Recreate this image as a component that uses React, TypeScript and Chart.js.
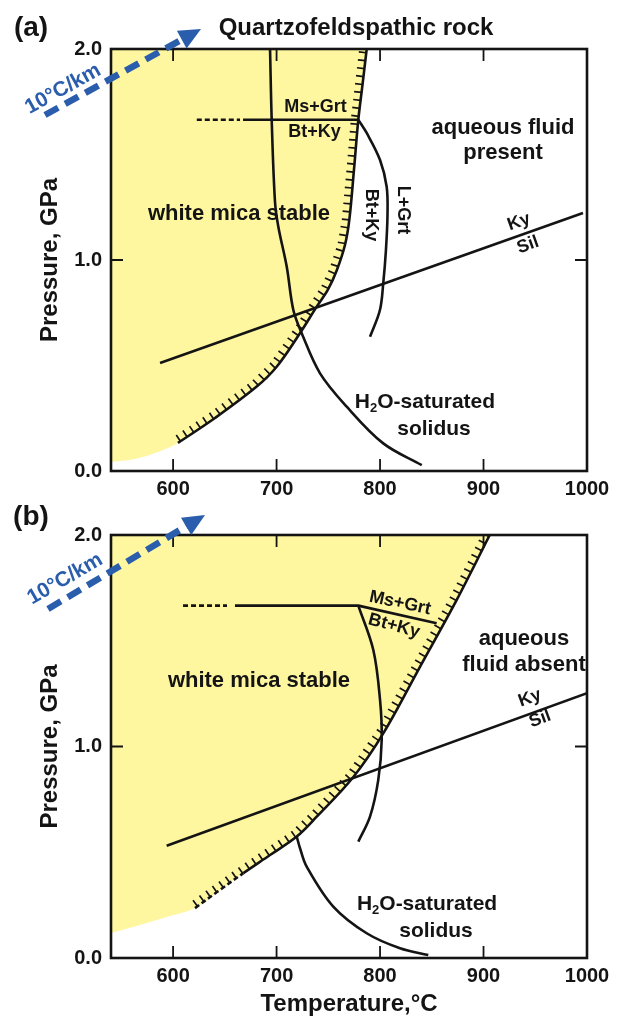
import React, { useEffect, useRef } from "react";
import { Chart, registerables } from "chart.js";

Chart.register(...registerables);

type XY = [number, number];

// ---------------- axes ----------------
const temperatureTicks = [600, 700, 800, 900, 1000];
const pressureTicks = [0, 1, 2];

// ---------------- panel (a): aqueous fluid present ----------------
const micaEdgeA: XY[] = [[540, 0.043], [563.2, 0.057], [585.4, 0.09]];
const micaBoundaryA: XY[] = [
  [604.7, 0.133], [640.5, 0.251], [680.8, 0.4], [700.1, 0.494], [722.6, 0.653], [738.8, 0.779],
  [749.5, 0.858], [758.3, 0.953], [766.1, 1.071], [770.3, 1.19], [774.8, 1.427], [779.0, 1.665],
  [783.0, 1.829], [787.1, 2.0],
];
const solidusA: XY[] = [
  [693.7, 2.0], [695.3, 1.664], [698.5, 1.275], [701.7, 1.158], [709.8, 0.969], [716.2, 0.763],
  [724.3, 0.653], [742.0, 0.463], [767.8, 0.305], [803.1, 0.131], [840.3, 0.028],
];
const meltCurveA: XY[] = [
  [779.0, 1.665], [787.1, 1.602], [800.0, 1.474], [806.4, 1.347], [807.2, 1.213], [805.7, 1.047],
  [803.1, 0.89], [799.9, 0.763], [790.3, 0.636],
];
const kySilA: XY[] = [[587.4, 0.512], [996.1, 1.223]];
const msGrtDashA: XY[] = [[622.9, 1.665], [664.7, 1.665]];
const msGrtA: XY[] = [[667.6, 1.665], [779.0, 1.665]];

// ---------------- panel (b): aqueous fluid absent ----------------
const micaEdgeB: XY[] = [[540, 0.118], [561.3, 0.147], [594.1, 0.194]];
const micaBoundaryB: XY[] = [
  [621.2, 0.236], [645.3, 0.322], [667.9, 0.401], [693.7, 0.487], [719.5, 0.574], [738.8, 0.668],
  [774.2, 0.856], [803.1, 1.062], [838.6, 1.377], [874.1, 1.693], [906.0, 2.0],
];
const solidusB: XY[] = [
  [719.5, 0.574], [722.6, 0.52], [729.1, 0.432], [754.8, 0.243], [787.1, 0.117], [819.3, 0.046], [846.6, 0.014],
];
const meltCurveB: XY[] = [
  [779.0, 1.666], [793.5, 1.456], [800.0, 1.22], [801.6, 1.031], [798.3, 0.842], [790.3, 0.668], [779.0, 0.55],
];
const kySilB: XY[] = [[593.8, 0.531], [1000, 1.252]];
const msGrtDashB: XY[] = [[609.6, 1.666], [652.1, 1.666]];
const msGrtB: XY[] = [[659.8, 1.666], [779.0, 1.666], [854.7, 1.583]];

// ---------------- styles ----------------
const BLUE = "#2a5dab";
const YELLOW = "#fff7a0";
const INK = "#141414";
const FONT = '"Liberation Sans", Arial, Helvetica, sans-serif';

type Part = { t: string; sub?: boolean };
type Label = { parts: Part[]; x: number; y: number; size: number; rot?: number; align?: "left" | "center" | "right" };
const txt = (t: string): Part[] => [{ t }];
const h2o: Part[] = [{ t: "H" }, { t: "2", sub: true }, { t: "O-saturated" }];

type Panel = {
  height: number;
  top: number;
  xAxisHeight: number;
  showXTitle: boolean;
  letter: { text: string; x: number; y: number };
  title?: { text: string; x: number; y: number };
  arrow: { x0: number; y0: number; x1: number; y1: number; tx: number; ty: number; rot: number };
  edge: XY[];
  boundary: XY[];
  boundaryDashSegs: number;
  solidus: XY[];
  melt: XY[];
  kySil: XY[];
  msDash: XY[];
  ms: XY[];
  labels: Label[];
};

const panelA: Panel = {
  height: 500,
  top: 49,
  xAxisHeight: 29,
  showXTitle: false,
  letter: { text: "(a)", x: 31, y: 28 },
  title: { text: "Quartzofeldspathic rock", x: 356, y: 28 },
  arrow: { x0: 45, y0: 115, x1: 201, y1: 29, tx: 63, ty: 89, rot: -29 },
  edge: micaEdgeA,
  boundary: micaBoundaryA,
  boundaryDashSegs: 0,
  solidus: solidusA,
  melt: meltCurveA,
  kySil: kySilA,
  msDash: msGrtDashA,
  ms: msGrtA,
  labels: [
    { parts: txt("Ms+Grt"), x: 767.8, y: 1.725, size: 18, align: "right" },
    { parts: txt("Bt+Ky"), x: 762.0, y: 1.608, size: 18, align: "right" },
    { parts: txt("aqueous fluid"), x: 918.8, y: 1.626, size: 22 },
    { parts: txt("present"), x: 918.8, y: 1.507, size: 22 },
    { parts: txt("white mica stable"), x: 663.7, y: 1.218, size: 22 },
    { parts: txt("L+Grt"), x: 822.2, y: 1.237, size: 18, rot: 90 },
    { parts: txt("Bt+Ky"), x: 791.3, y: 1.213, size: 18, rot: 90 },
    { parts: txt("Ky"), x: 934.3, y: 1.18, size: 18, rot: -19.5 },
    { parts: txt("Sil"), x: 943.0, y: 1.071, size: 18, rot: -19.5 },
    { parts: h2o, x: 843.4, y: 0.327, size: 21 },
    { parts: txt("solidus"), x: 852.1, y: 0.199, size: 21 },
  ],
};

const panelB: Panel = {
  height: 520,
  top: 35,
  xAxisHeight: 62,
  showXTitle: true,
  letter: { text: "(b)", x: 31, y: 17 },
  arrow: { x0: 48, y0: 109, x1: 205, y1: 15, tx: 65, ty: 79, rot: -30 },
  edge: micaEdgeB,
  boundary: micaBoundaryB,
  boundaryDashSegs: 2,
  solidus: solidusB,
  melt: meltCurveB,
  kySil: kySilB,
  msDash: msGrtDashB,
  ms: msGrtB,
  labels: [
    { parts: txt("Ms+Grt"), x: 819.3, y: 1.678, size: 18, rot: 12 },
    { parts: txt("Bt+Ky"), x: 813.5, y: 1.57, size: 18, rot: 15 },
    { parts: txt("aqueous"), x: 939.1, y: 1.508, size: 22 },
    { parts: txt("fluid absent"), x: 939.1, y: 1.385, size: 22 },
    { parts: txt("white mica stable"), x: 683.0, y: 1.31, size: 22 },
    { parts: txt("Ky"), x: 944.9, y: 1.229, size: 18, rot: -20 },
    { parts: txt("Sil"), x: 954.6, y: 1.13, size: 18, rot: -20 },
    { parts: h2o, x: 845.4, y: 0.255, size: 21 },
    { parts: txt("solidus"), x: 854.1, y: 0.128, size: 21 },
  ],
};

const pts = (arr: XY[]) => arr.map(([x, y]) => ({ x, y }));

function lineDs(data: XY[], extra: any = {}) {
  return {
    data: pts(data),
    borderColor: INK,
    borderWidth: 2.6,
    pointRadius: 0,
    pointHoverRadius: 0,
    fill: false,
    tension: 0.35,
    borderJoinStyle: "round",
    ...extra,
  };
}

function drawParts(ctx: CanvasRenderingContext2D, L: Label, px: number, py: number, color: string) {
  ctx.save();
  ctx.translate(px, py);
  ctx.rotate(((L.rot || 0) * Math.PI) / 180);
  ctx.fillStyle = color;
  ctx.textBaseline = "middle";
  ctx.textAlign = "left";
  const fontFor = (sub?: boolean) => `bold ${sub ? Math.round(L.size * 0.62) : L.size}px ${FONT}`;
  const widths = L.parts.map((p) => {
    ctx.font = fontFor(p.sub);
    return ctx.measureText(p.t).width;
  });
  const total = widths.reduce((a, b) => a + b, 0);
  let x0 = L.align === "right" ? -total : L.align === "left" ? 0 : -total / 2;
  L.parts.forEach((p, i) => {
    ctx.font = fontFor(p.sub);
    ctx.fillText(p.t, x0, p.sub ? L.size * 0.32 : 0);
    x0 += widths[i];
  });
  ctx.restore();
}

function makeDecor(panel: Panel) {
  return {
    id: "decor",
    afterDatasetsDraw(chart: any) {
      const ctx: CanvasRenderingContext2D = chart.ctx;
      const { left, right, top, bottom } = chart.chartArea;
      const xs = chart.scales.x;
      const ys = chart.scales.y;

      // hatch marks on the white-mica stability boundary (dataset 1)
      const meta = chart.getDatasetMeta(1);
      const p = meta.data.map((e: any) => ({ x: e.x, y: e.y }));
      ctx.save();
      ctx.beginPath();
      ctx.rect(left, top, right - left, bottom - top);
      ctx.clip();
      ctx.strokeStyle = INK;
      ctx.lineWidth = 1.7;
      ctx.beginPath();
      const spacing = 8;
      const len = 7.5;
      let carry = 3;
      for (let i = 0; i < p.length - 1; i++) {
        const a = p[i];
        const b = p[i + 1];
        const dx = b.x - a.x;
        const dy = b.y - a.y;
        const L = Math.hypot(dx, dy);
        if (L === 0) continue;
        const nx = dy / L;
        const ny = -dx / L;
        let s = carry;
        while (s < L) {
          const qx = a.x + (dx * s) / L;
          const qy = a.y + (dy * s) / L;
          ctx.moveTo(qx, qy);
          ctx.lineTo(qx + nx * len, qy + ny * len);
          s += spacing;
        }
        carry = s - L;
      }
      ctx.stroke();
      ctx.restore();

      // frame and inward ticks
      ctx.save();
      ctx.strokeStyle = INK;
      ctx.lineWidth = 1.8;
      ctx.beginPath();
      temperatureTicks.forEach((v) => {
        const x = xs.getPixelForValue(v);
        if (x > left + 2 && x < right - 2) {
          ctx.moveTo(x, top);
          ctx.lineTo(x, top + 12);
          ctx.moveTo(x, bottom);
          ctx.lineTo(x, bottom - 12);
        }
      });
      pressureTicks.forEach((v) => {
        const y = ys.getPixelForValue(v);
        if (y > top + 2 && y < bottom - 2) {
          ctx.moveTo(left, y);
          ctx.lineTo(left + 12, y);
          ctx.moveTo(right, y);
          ctx.lineTo(right - 12, y);
        }
      });
      ctx.stroke();
      ctx.lineWidth = 2.6;
      ctx.strokeRect(left, top, right - left, bottom - top);
      ctx.restore();

      // labels inside the plot
      panel.labels.forEach((L) => {
        drawParts(ctx, L, xs.getPixelForValue(L.x), ys.getPixelForValue(L.y), INK);
      });

      // panel letter and title
      drawParts(ctx, { parts: txt(panel.letter.text), x: 0, y: 0, size: 28 }, panel.letter.x, panel.letter.y, INK);
      if (panel.title) {
        drawParts(ctx, { parts: txt(panel.title.text), x: 0, y: 0, size: 24 }, panel.title.x, panel.title.y, INK);
      }

      // geotherm arrow
      const ar = panel.arrow;
      const ang = Math.atan2(ar.y1 - ar.y0, ar.x1 - ar.x0);
      const head = 22;
      const hw = 10;
      const bx = ar.x1 - Math.cos(ang) * head;
      const by = ar.y1 - Math.sin(ang) * head;
      ctx.save();
      ctx.strokeStyle = BLUE;
      ctx.lineWidth = 6.5;
      ctx.setLineDash([15, 8]);
      ctx.beginPath();
      ctx.moveTo(ar.x0, ar.y0);
      ctx.lineTo(bx + Math.cos(ang) * 2, by + Math.sin(ang) * 2);
      ctx.stroke();
      ctx.setLineDash([]);
      ctx.fillStyle = BLUE;
      ctx.beginPath();
      ctx.moveTo(ar.x1, ar.y1);
      ctx.lineTo(bx + Math.sin(ang) * hw, by - Math.cos(ang) * hw);
      ctx.lineTo(bx - Math.sin(ang) * hw, by + Math.cos(ang) * hw);
      ctx.closePath();
      ctx.fill();
      ctx.restore();
      drawParts(ctx, { parts: txt("10°C/km"), x: 0, y: 0, size: 21, rot: ar.rot }, ar.tx, ar.ty, BLUE);
    },
  };
}

function buildConfig(panel: Panel): any {
  const fillData = [...panel.edge, ...panel.boundary];
  const dashN = panel.boundaryDashSegs;
  return {
    type: "line",
    data: {
      datasets: [
        {
          data: pts(fillData),
          borderWidth: 0,
          borderColor: "rgba(0,0,0,0)",
          backgroundColor: YELLOW,
          pointRadius: 0,
          fill: "end",
          tension: 0.35,
          order: 10,
        },
        lineDs(panel.boundary, {
          segment: { borderDash: (c: any) => (c.p0DataIndex < dashN ? [5, 3] : undefined) },
        }),
        lineDs(panel.solidus),
        lineDs(panel.melt),
        lineDs(panel.kySil, { tension: 0 }),
        lineDs(panel.msDash, { tension: 0, borderDash: [5, 3] }),
        lineDs(panel.ms, { tension: 0 }),
      ],
    },
    options: {
      responsive: false,
      animation: false,
      devicePixelRatio: 1,
      events: [],
      layout: { padding: { left: 0, right: 33, top: panel.top, bottom: 0 } },
      plugins: { legend: { display: false }, tooltip: { enabled: false } },
      scales: {
        x: {
          type: "linear",
          min: 540,
          max: 1000,
          grid: { display: false, drawTicks: false },
          border: { display: false },
          afterBuildTicks: (s: any) => {
            s.ticks = temperatureTicks.map((v) => ({ value: v }));
          },
          afterFit: (s: any) => {
            s.height = panel.xAxisHeight;
          },
          ticks: {
            padding: 6,
            maxRotation: 0,
            autoSkip: false,
            color: INK,
            font: { family: FONT, size: 20, weight: "bold" },
            callback: (v: any) => String(v),
          },
          title: {
            display: panel.showXTitle,
            text: "Temperature,°C",
            color: INK,
            font: { family: FONT, size: 24, weight: "bold" },
            padding: { top: 0, bottom: 1 },
          },
        },
        y: {
          type: "linear",
          min: 0,
          max: 2,
          grid: { display: false, drawTicks: false },
          border: { display: false },
          afterBuildTicks: (s: any) => {
            s.ticks = pressureTicks.map((v) => ({ value: v }));
          },
          afterFit: (s: any) => {
            s.width = 111;
          },
          ticks: {
            padding: 9,
            color: INK,
            font: { family: FONT, size: 20, weight: "bold" },
            callback: (v: any) => Number(v).toFixed(1),
          },
          title: {
            display: true,
            text: "Pressure, GPa",
            color: INK,
            font: { family: FONT, size: 24, weight: "bold" },
            padding: { top: 36, bottom: 0 },
          },
        },
      },
    },
    plugins: [makeDecor(panel)],
  };
}

export default function App() {
  const refA = useRef<HTMLCanvasElement>(null);
  const refB = useRef<HTMLCanvasElement>(null);
  useEffect(() => {
    const a = new Chart(refA.current as HTMLCanvasElement, buildConfig(panelA));
    const b = new Chart(refB.current as HTMLCanvasElement, buildConfig(panelB));
    return () => {
      a.destroy();
      b.destroy();
    };
  }, []);
  return (
    <div style={{ position: "absolute", left: 0, top: 0, width: 620, height: 1020, background: "#fff" }}>
      <canvas
        ref={refA}
        width={620}
        height={500}
        style={{ position: "absolute", left: 0, top: 0, width: 620, height: 500 }}
      />
      <canvas
        ref={refB}
        width={620}
        height={520}
        style={{ position: "absolute", left: 0, top: 500, width: 620, height: 520 }}
      />
    </div>
  );
}
